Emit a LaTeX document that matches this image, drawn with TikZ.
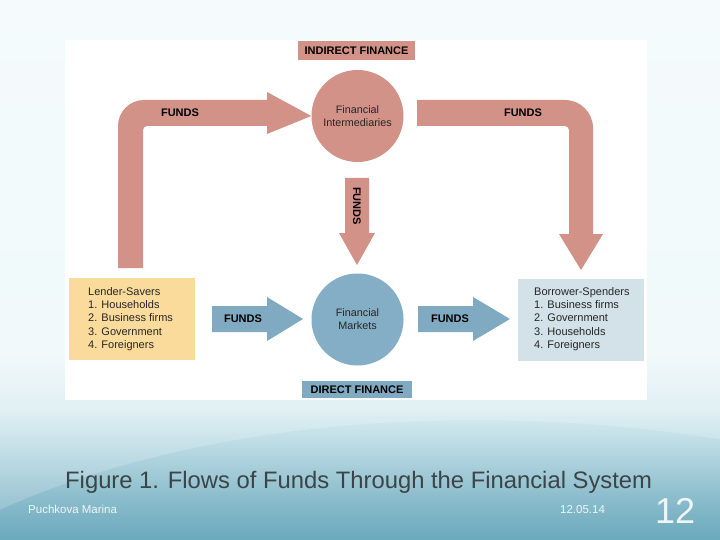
\documentclass[tikz,border=0pt]{standalone}
\usepackage{fontspec}
\setmainfont{Liberation Sans}
\usetikzlibrary{positioning}
\definecolor{salmon}{HTML}{D29287}
\definecolor{steel}{HTML}{7FAAC2}
\definecolor{circblue}{HTML}{84AEC5}
\definecolor{lendfill}{HTML}{FADB9C}
\definecolor{borrfill}{HTML}{D3E1E8}
\definecolor{bga}{HTML}{6AA9BC}
\definecolor{bgb}{HTML}{8CBDCC}
\definecolor{bgc}{HTML}{B3D6E0}
\definecolor{bgd}{HTML}{DAEDF2}
\definecolor{bge}{HTML}{EEF8FA}
\definecolor{bgf}{HTML}{F3FBFC}
\definecolor{captxt}{HTML}{3C4448}
\definecolor{foottxt}{HTML}{EEF6F8}
\pgfdeclareverticalshading{slidebg}{100bp}{color(0bp)=(bga); color(25bp)=(bga); color(29bp)=(bgb); color(33bp)=(bgc); color(37bp)=(bgd); color(42bp)=(bge); color(75bp)=(bgf); color(100bp)=(bgf)}
\tikzset{
  fundslbl/.style={font=\fontsize{11}{12}\selectfont\bfseries, text=black, inner sep=0pt},
  bannerbox/.style={font=\fontsize{11}{12}\selectfont\bfseries, text=black, inner sep=0pt, minimum height=19pt},
  circnode/.style={circle, minimum size=92pt, inner sep=0pt, align=center, font=\fontsize{10.8}{13}\selectfont, text=black!85},
  listbox/.style={inner sep=0pt, minimum width=126pt, minimum height=82pt},
  listtxt/.style={anchor=north west, inner sep=0pt, align=left, font=\fontsize{11}{13.3}\selectfont, text=black!85},
  foot/.style={text=foottxt, inner sep=0pt}
}
\begin{document}
\begin{tikzpicture}[x=1pt,y=-1pt]
\useasboundingbox (0,0) rectangle (720,540);
% background
\shade[shading=slidebg] (0,0) rectangle (720,540);
\fill[white, opacity=0.18] (-60,540) .. controls (150,420) and (480,390) .. (780,450) -- (780,-20) -- (-60,-20) -- cycle;
% white panel
\fill[white] (65,40) rectangle (647,400);

% banners
\node[bannerbox, fill=salmon, minimum width=117pt] (indirect) at (356.5,50.5) {INDIRECT FINANCE};
\node[bannerbox, fill=steel, minimum width=110pt, minimum height=17pt] (direct) at (357,389.5) {DIRECT FINANCE};

% circles
\node[circnode, fill=salmon] (fi) at (357.5,116) {Financial\\Intermediaries};
\node[circnode, fill=circblue] (fm) at (357.5,319.5) {Financial\\Markets};

% side boxes
\node[listbox, fill=lendfill] (lender) at (132,319) {};
\node[listbox, fill=borrfill] (borrower) at (580.5,319.5) {};
\node[listtxt] (lendtxt) at (88,287) {Lender-Savers\\1. Households\\2. Business firms\\3. Government\\4. Foreigners};
\node[listtxt] (borrtxt) at (534,287) {Borrower-Spenders\\1. Business firms\\2. Government\\3. Households\\4. Foreigners};

% left L-shaped arrow
\fill[salmon] (118,268) [rounded corners=26pt] -- (118,100) [sharp corners] -- (267,100) -- (267,92) -- (fi.west) -- (267,134) -- (267,126) [rounded corners=4pt] -- (143,126) [sharp corners] -- (143,268) -- cycle;
% right L-shaped arrow
\fill[salmon] (417,100) [rounded corners=28pt] -- (593,100) [sharp corners] -- (593,234) -- (603,234) -- (581,270) -- (559,234) -- (569,234) [rounded corners=4pt] -- (569,126) [sharp corners] -- (417,126) -- cycle;
% down arrow
\fill[salmon] (345,178) -- (369,178) -- (369,233) -- (375,233) -- (357,265) -- (339,233) -- (345,233) -- cycle;

% blue arrows
\fill[steel] (212,306) -- (267,306) -- (267,297) -- (303,319) -- (267,341) -- (267,332) -- (212,332) -- cycle;
\fill[steel] (418,306) -- (473,306) -- (473,297) -- (510,319) -- (473,341) -- (473,332) -- (418,332) -- cycle;

% FUNDS labels
\node[fundslbl] (f1) at (180,113) {FUNDS};
\node[fundslbl] (f2) at (523,113) {FUNDS};
\node[fundslbl, rotate=-90] (f3) at (357,206) {FUNDS};
\node[fundslbl] (f4) at (243,319) {FUNDS};
\node[fundslbl] (f5) at (450,319) {FUNDS};

% caption and footer
\node[text=captxt, font=\fontsize{23.8}{28}\selectfont, anchor=base west, inner sep=0pt] (cap) at (65,488) {Figure 1. Flows of Funds Through the Financial System};
\node[foot, font=\fontsize{11.5}{13}\selectfont, anchor=base west] (author) at (28,513) {Puchkova Marina};
\node[foot, font=\fontsize{11.5}{13}\selectfont, anchor=base west] (date) at (560,513) {12.05.14};
\node[foot, font=\fontsize{36}{40}\selectfont, anchor=base west] (page) at (655,523) {12};
\end{tikzpicture}
\end{document}
